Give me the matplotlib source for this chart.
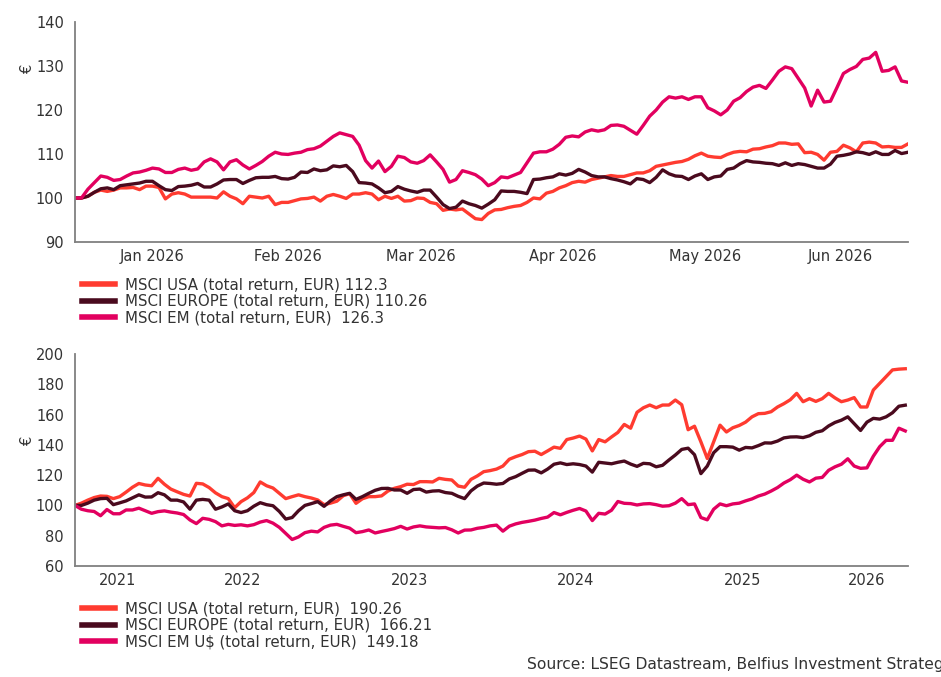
import matplotlib
matplotlib.use("Agg")
import matplotlib.pyplot as plt
import matplotlib.dates as mdates
import numpy as np
import pandas as pd

# --- top chart: daily since 31/12/2025 (business days), rebased to 100 ---
top_start = "2025-12-31"
top_end = "2026-06-30"
top_usa = [100, 100, 100.4, 101.3, 101.8, 101.5, 101.8, 102.3, 102.3, 102.4,
           101.9, 102.7, 102.7, 102.4, 99.8, 100.9, 101.2, 100.9, 100.2, 100.2,
           100.2, 100.2, 100, 101.4, 100.4, 99.8, 98.7, 100.4, 100.2, 100,
           100.4, 98.5, 99, 99, 99.4, 99.8, 99.9, 100.2, 99.3, 100.4,
           100.8, 100.4, 99.9, 100.9, 100.9, 101.2, 100.9, 99.6, 100.4, 99.9,
           100.4, 99.3, 99.4, 100, 99.9, 99, 98.7, 97.2, 97.5, 97.3,
           97.5, 96.4, 95.3, 95.1, 96.5, 97.3, 97.4, 97.8, 98.1, 98.3,
           99, 100, 99.8, 101.1, 101.5, 102.3, 102.8, 103.5, 103.8, 103.6,
           104.2, 104.5, 104.8, 105.1, 104.9, 104.9, 105.3, 105.7, 105.7, 106.2,
           107.2, 107.5, 107.8, 108.1, 108.3, 108.8, 109.6, 110.2, 109.5, 109.3,
           109.2, 109.9, 110.4, 110.6, 110.5, 111.1, 111.2, 111.6, 111.9, 112.5,
           112.5, 112.2, 112.3, 110.3, 110.4, 109.9, 108.6, 110.4, 110.6, 112,
           111.4, 110.5, 112.5, 112.7, 112.5, 111.6, 111.7, 111.5, 111.5, 112.3]
top_europe = [100, 100, 100.4, 101.3, 102.1, 102.3, 101.9, 102.8, 103, 103.2,
              103.4, 103.8, 103.8, 102.8, 101.9, 101.7, 102.6, 102.7, 102.9, 103.3,
              102.5, 102.5, 103.2, 104.1, 104.2, 104.2, 103.3, 104, 104.6, 104.7,
              104.7, 104.9, 104.4, 104.3, 104.7, 105.9, 105.8, 106.6, 106.2, 106.4,
              107.3, 107.1, 107.4, 106, 103.5, 103.4, 103.2, 102.3, 101.2, 101.5,
              102.6, 102, 101.6, 101.3, 101.8, 101.8, 100.2, 98.5, 97.6, 97.9,
              99.3, 98.7, 98.3, 97.7, 98.6, 99.6, 101.6, 101.5, 101.5, 101.3,
              101, 104.2, 104.3, 104.6, 104.8, 105.5, 105.2, 105.6, 106.5, 105.9,
              105.1, 104.8, 104.8, 104.4, 104.1, 103.7, 103.2, 104.4, 104.2, 103.5,
              104.7, 106.4, 105.5, 105, 104.9, 104.2, 105, 105.5, 104.2, 104.8,
              105, 106.5, 106.8, 107.8, 108.5, 108.2, 108.1, 107.9, 107.8, 107.4,
              108, 107.4, 107.8, 107.6, 107.2, 106.8, 106.8, 107.7, 109.5, 109.7,
              110, 110.5, 110.3, 109.9, 110.5, 109.9, 109.9, 110.8, 110.1, 110.4]
top_em = [100, 100, 102, 103.5, 105, 104.7, 104, 104.2, 105, 105.7,
          105.9, 106.3, 106.8, 106.6, 105.8, 105.8, 106.5, 106.8, 106.3, 106.6,
          108.2, 108.9, 108.2, 106.4, 108.2, 108.7, 107.5, 106.6, 107.4, 108.3,
          109.5, 110.4, 110, 109.9, 110.2, 110.4, 111, 111.2, 111.8, 112.9,
          114, 114.8, 114.4, 114, 112, 108.5, 106.8, 108.4, 106, 107.2,
          109.5, 109.2, 108.2, 107.9, 108.5, 109.8, 108.2, 106.5, 103.6, 104.2,
          106.2, 105.8, 105.3, 104.3, 102.8, 103.5, 104.8, 104.6, 105.2, 105.8,
          108, 110.2, 110.5, 110.5, 111.1, 112.2, 113.8, 114.1, 113.9, 115,
          115.5, 115.2, 115.5, 116.5, 116.6, 116.3, 115.4, 114.5, 116.5, 118.6,
          120, 121.8, 123, 122.7, 123, 122.4, 123, 123, 120.5, 119.8,
          118.9, 120, 122, 122.8, 124.2, 125.2, 125.6, 124.9, 126.8, 128.8,
          129.8, 129.4, 127.2, 125, 120.9, 124.5, 121.8, 122, 125.1, 128.3,
          129.2, 129.9, 131.5, 131.8, 133.1, 128.8, 129, 129.8, 126.6, 126.3]
top_months = ["Jan 2026", "Feb 2026", "Mar 2026", "Apr 2026", "May 2026", "Jun 2026"]
top_labels = ["MSCI USA (total return, EUR) 112.3",
              "MSCI EUROPE (total return, EUR) 110.26",
              "MSCI EM (total return, EUR)  126.3"]

# --- bottom chart: every two weeks since 30/06/2021, rebased to 100 ---
bot_start = "2021-06-30"
bot_end = "2026-06-30"
bot_usa = [100, 101.5, 103.5, 105.2, 106.2, 106, 104.5, 105.8, 108.8, 112,
           114.5, 113.5, 113, 117.9, 114, 110.8, 109, 107.3, 106.2, 114.6,
           114.2, 111.8, 108.3, 105.8, 104.5, 98.5, 102.5, 105, 108.5, 115.5,
           113, 111.5, 108, 104.5, 105.8, 107, 105.8, 104.9, 103.6, 100.5,
           101.5, 102.8, 106.4, 107.8, 101.4, 104.4, 105.8, 105.8, 106.3, 109.5,
           111.3, 112.4, 114, 113.8, 115.7, 115.7, 115.5, 117.9, 117.2, 116.8,
           112.8, 112, 117.2, 119.5, 122.3, 123, 124, 126, 130.5, 132.2,
           133.6, 135.5, 135.8, 133.6, 136, 138.5, 137.7, 143.5, 144.5, 145.8,
           143.8, 136, 143.5, 142, 145.2, 148.2, 153.5, 151, 161.5, 164.5,
           166.3, 164.5, 166.3, 166.3, 169.6, 166.5, 150, 152.3, 142, 131,
           142, 153, 148.5, 151.3, 152.8, 155, 158.5, 160.6, 160.8, 161.9,
           165, 167.2, 169.8, 174, 168.5, 170.5, 168.7, 170.5, 174, 171,
           168.5, 169.6, 171.2, 165, 165, 176.2, 180.6, 185, 189.5, 190,
           190.26]
bot_europe = [100, 100, 101.5, 103.5, 104.5, 104.7, 100.5, 101.7, 103, 105,
              107, 105.5, 105.6, 108.4, 107, 103.5, 103.5, 102.3, 97.5, 103.5,
              104, 103.5, 97.5, 99, 101, 96.5, 95.3, 96.5, 99.5, 101.8,
              100.5, 99.8, 96, 91, 92, 96.5, 100, 101.2, 102.5, 99.4,
              103, 105.8, 107, 108, 104, 105.8, 108, 110, 111.2, 111.3,
              110.2, 110.2, 108, 110.5, 110.8, 108.8, 109.5, 109.7, 108.5, 108,
              106, 104.5, 109.6, 112.8, 114.8, 114.5, 114, 114.5, 117.5, 119,
              121.2, 123.3, 123.4, 121.5, 124, 127.2, 128.1, 127, 127.5, 127,
              126, 122, 128.5, 128, 127.5, 128.5, 129.3, 127.3, 125.8, 127.8,
              127.5, 125.5, 126.5, 130, 133.3, 137, 137.8, 133.5, 121, 126,
              134.8, 138.8, 138.8, 138.5, 136.5, 138.3, 138, 139.5, 141.3, 141.2,
              142.5, 144.6, 145.2, 145.3, 144.8, 146, 148.3, 149.3, 152.5, 154.8,
              156.3, 158.5, 154, 149.5, 155, 157.5, 157, 158.5, 161.2, 165.5,
              166.21]
bot_em = [100, 97.5, 96.5, 96, 93.2, 97.3, 94.5, 94.5, 97, 97,
          98.2, 96.5, 94.8, 95.9, 96.4, 95.6, 95, 94, 90.4, 88,
          91.5, 90.8, 89.3, 86.5, 87.5, 86.8, 87.2, 86.5, 87.3, 89,
          90, 88.3, 85.5, 81.5, 77.5, 79.2, 82, 83, 82.5, 85.5,
          87, 87.5, 86.2, 85, 82, 82.7, 83.8, 81.8, 82.8, 83.7,
          84.7, 86.2, 84.4, 85.8, 86.5, 85.8, 85.5, 85.2, 85.4, 83.9,
          81.8, 83.7, 83.8, 84.9, 85.5, 86.5, 87, 83, 86.3, 87.8,
          88.8, 89.5, 90.3, 91.4, 92.3, 95.3, 93.8, 95.4, 96.8, 98,
          96.3, 90, 94.8, 94.3, 96.8, 102.6, 101.4, 101.2, 100.3, 101,
          101.2, 100.5, 99.5, 99.8, 101.5, 104.5, 100.5, 101, 92, 90.5,
          97.5, 101, 99.8, 101, 101.5, 103, 104.3, 106.2, 107.5, 109.5,
          111.8, 114.8, 117, 120, 117.3, 115.5, 118, 118.5, 123.2, 125.5,
          127.2, 130.8, 126, 124.5, 124.8, 132.5, 138.8, 143, 143, 151,
          149.18]
bot_years = ["2021", "2022", "2023", "2024", "2025", "2026"]
bot_labels = ["MSCI USA (total return, EUR)  190.26",
              "MSCI EUROPE (total return, EUR)  166.21",
              "MSCI EM U$ (total return, EUR)  149.18"]

colors = ["#ff3b30", "#4a0a1e", "#e2005f"]
txt = "#333333"
spine_col = "#808080"

plt.rcParams["font.family"] = ["DejaVu Sans"]
plt.rcParams["font.size"] = 10.8

fig = plt.figure(figsize=(9.41, 6.77), dpi=100)
ax1 = fig.add_axes([75 / 941, 1 - 242 / 677, 833 / 941, 220 / 677])
ax2 = fig.add_axes([75 / 941, 1 - 566 / 677, 833 / 941, 212 / 677])

# top: x = business-day index
days = pd.bdate_range(top_start, top_end)
xd = np.arange(len(days))
for vals, c, lab in zip([top_usa, top_europe, top_em], colors, top_labels):
    ax1.plot(xd, vals, color=c, lw=2.4, label=lab, solid_joinstyle="round")
ax1.set_xlim(0, len(days) - 1)
ax1.set_ylim(90, 140)
ax1.set_yticks(range(90, 141, 10))
mids = []
for m in range(1, 7):
    s = np.busday_count(top_start, f"2026-{m:02d}-01")
    e = np.busday_count(top_start, (pd.Timestamp(f"2026-{m:02d}-01") + pd.offsets.MonthEnd(0)).strftime("%Y-%m-%d"))
    mids.append((s + e) / 2)
ax1.set_xticks(mids)
ax1.set_xticklabels(top_months)

# bottom: real dates
dates = pd.date_range(bot_start, periods=len(bot_usa), freq="14D")
for vals, c, lab in zip([bot_usa, bot_europe, bot_em], colors, bot_labels):
    ax2.plot(dates, vals, color=c, lw=2.4, label=lab, solid_joinstyle="round")
x0, x1 = pd.Timestamp(bot_start), pd.Timestamp(bot_end)
ax2.set_xlim(x0, x1)
ax2.set_ylim(60, 200)
ax2.set_yticks(range(60, 201, 20))
ypos = []
for y in bot_years:
    a = max(pd.Timestamp(f"{y}-01-01"), x0)
    b = min(pd.Timestamp(f"{int(y) + 1}-01-01"), x1)
    ypos.append(mdates.date2num(a + (b - a) / 2))
ax2.set_xticks(ypos)
ax2.set_xticklabels(bot_years)

for ax, ly in [(ax1, 0.79), (ax2, 0.594)]:
    for s in ["top", "right"]:
        ax.spines[s].set_visible(False)
    for s in ["left", "bottom"]:
        ax.spines[s].set_color(spine_col)
        ax.spines[s].set_linewidth(1.3)
    ax.tick_params(length=0, colors=txt, labelsize=10.5)
    ax.tick_params(axis="y", pad=8)
    ax.tick_params(axis="x", pad=5)
    ax.set_ylabel("€", color=txt, fontsize=10.5)
    ax.yaxis.set_label_coords(-0.048, ly)

leg_kw = dict(loc="upper left", frameon=False, handlelength=2.2, handletextpad=0.65,
              labelspacing=0.12, borderpad=0, borderaxespad=0, fontsize=10.8)
l1 = ax1.legend(bbox_to_anchor=(82 / 941, 1 - 277 / 677), bbox_transform=fig.transFigure, **leg_kw)
l2 = ax2.legend(bbox_to_anchor=(82 / 941, 1 - 601 / 677), bbox_transform=fig.transFigure, **leg_kw)
for leg in (l1, l2):
    for t in leg.get_texts():
        t.set_color(txt)
    for h in leg.legend_handles:
        h.set_linewidth(4)

fig.text(527 / 941, 1 - 665 / 677, "Source: LSEG Datastream, Belfius Investment Strategy",
         fontsize=11.2, color=txt, va="center", ha="left")

fig.savefig("out.png", dpi=100)
